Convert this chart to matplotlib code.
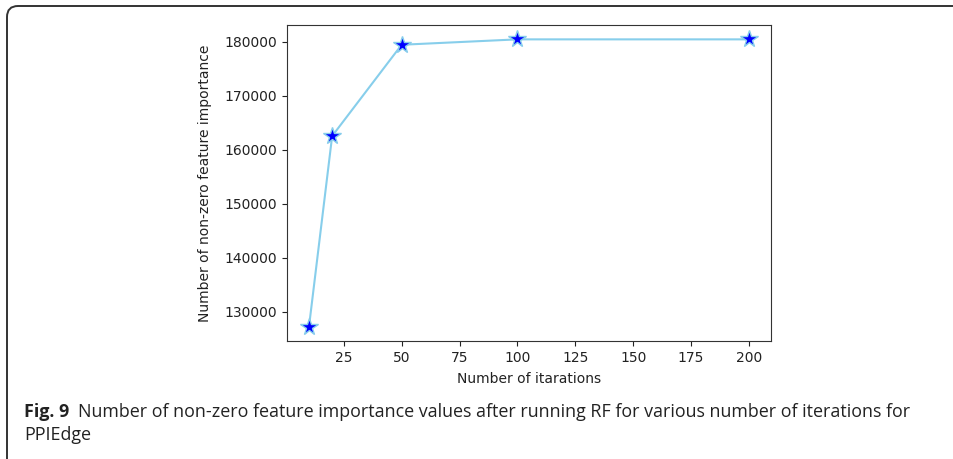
import matplotlib
matplotlib.use("Agg")
import matplotlib.pyplot as plt
from matplotlib.patches import FancyBboxPatch
from matplotlib.transforms import IdentityTransform

iterations = [10, 20, 50, 100, 200]
nonzero_counts = [127200, 162500, 179400, 180400, 180400]
x_label = "Number of itarations"
y_label = "Number of non-zero feature importance"
caption_bold = "Fig. 9"
caption_line1 = "Number of non-zero feature importance values after running RF for various number of iterations for"
caption_line2 = "PPIEdge"

W, H, DPI = 954, 459, 100
fig = plt.figure(figsize=(W / DPI, H / DPI), dpi=DPI)

# axes placement in pixels
ax_l, ax_r, ax_t, ax_b = 287, 771, 25, 341
ax = fig.add_axes([ax_l / W, 1 - ax_b / H, (ax_r - ax_l) / W, (ax_b - ax_t) / H])
ax.plot(iterations, nonzero_counts, color="skyblue", linewidth=1.5,
        marker="*", markersize=13, markerfacecolor="blue",
        markeredgecolor="skyblue", markeredgewidth=1.0)
ax.set_xticks([25, 50, 75, 100, 125, 150, 175, 200])
ax.set_yticks([130000, 140000, 150000, 160000, 170000, 180000])
ax.tick_params(labelsize=10, colors="#222222")
for s in ax.spines.values():
    s.set_color("#333333")
ax.set_xlabel(x_label, fontsize=10, color="#222222", labelpad=5)
ax.set_ylabel(y_label, fontsize=10, color="#222222", labelpad=9)

# frame (rounded, open on right/bottom) in pixel coordinates
frame = FancyBboxPatch((7, -30), 1100, (H - 6) + 30,
                       boxstyle="round,pad=0,rounding_size=11",
                       transform=IdentityTransform(), fill=False,
                       edgecolor="#333333", linewidth=1.4, clip_on=False)
fig.patches.append(frame)

cap_font = ["Open Sans", "DejaVu Sans"]
fs = 12.9
t1 = fig.text(24 / W, 1 - 417 / H, caption_bold, fontsize=fs, fontweight="bold",
              family=cap_font, color="#222222", va="baseline")
fig.canvas.draw()
bb = t1.get_window_extent()
fig.text((bb.x1 + 9) / W, 1 - 417 / H, caption_line1, fontsize=fs,
         family=cap_font, color="#222222", va="baseline")
fig.text(24 / W, 1 - 440 / H, caption_line2, fontsize=fs,
         family=cap_font, color="#222222", va="baseline")

fig.savefig("out.png", dpi=DPI)
